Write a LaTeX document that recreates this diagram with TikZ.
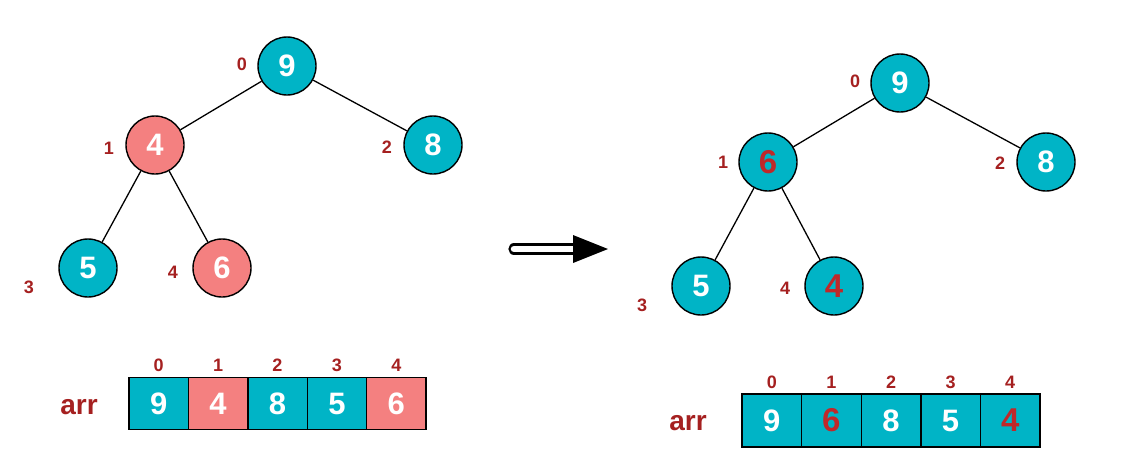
\documentclass[tikz,border=0pt]{standalone}
\usepackage{fontspec}
\setmainfont{Liberation Sans}
\usepackage{xcolor}
\definecolor{heapteal}{RGB}{0,180,198}
\definecolor{heappink}{RGB}{244,128,128}
\definecolor{idxred}{RGB}{165,32,32}
\definecolor{swapred}{RGB}{192,40,42}
\tikzset{
  heapnode/.style={circle,draw=black,line width=1.4pt,minimum size=58pt,inner sep=0pt,
    fill=heapteal,text=white,font=\fontsize{31}{31}\selectfont\bfseries},
  pinknode/.style={heapnode,fill=heappink},
  swapnode/.style={heapnode,text=swapred,font=\fontsize{33}{33}\selectfont\bfseries},
  idx/.style={text=idxred,inner sep=0pt,font=\fontsize{18}{18}\selectfont\bfseries},
  arrlabel/.style={text=idxred,inner sep=0pt,font=\fontsize{28}{28}\selectfont\bfseries},
  cell/.style={rectangle,draw=black,line width=1.4pt,minimum width=59.4pt,minimum height=52pt,
    inner sep=0pt,fill=heapteal,text=white,font=\fontsize{31}{31}\selectfont\bfseries},
  pinkcell/.style={cell,fill=heappink},
  swapcell/.style={cell,text=swapred,font=\fontsize{33}{33}\selectfont\bfseries},
  edge/.style={line width=1.3pt}
}
\begin{document}
\begin{tikzpicture}[x=1pt,y=-1pt]
  \useasboundingbox (0,0) rectangle (1129,474);
  % Left heap, before the swap
  \node[heapnode] (l0) at (287,66) {9};
  \node[pinknode] (l1) at (155,145) {4};
  \node[heapnode] (l2) at (433,145) {8};
  \node[heapnode] (l3) at (88,268) {5};
  \node[pinknode] (l4) at (222,268) {6};
  \draw[edge] (l0) -- (l1);
  \draw[edge] (l0) -- (l2);
  \draw[edge] (l1) -- (l3);
  \draw[edge] (l1) -- (l4);
  % Index labels of the left heap
  \node[idx] (li0) at (242,64) {0};
  \node[idx] (li1) at (109,148) {1};
  \node[idx] (li2) at (387,147) {2};
  \node[idx] (li3) at (29,287) {3};
  \node[idx] (li4) at (173,272) {4};
  % Left array
  \node[arrlabel] (larr) at (79,407) {arr};
  \foreach \v/\s [count=\i from 0] in {9/cell,4/pinkcell,8/cell,5/cell,6/pinkcell} {
    \node[\s] (la\i) at (158.7+59.4*\i,403.5) {\v};
    \node[idx] (lai\i) at (158.7+59.4*\i,365) {\i};
  }
  % Arrow between the two states
  \coordinate (arrS) at (514,249);
  \coordinate (arrE) at (578,249);
  \draw[line width=2.4pt,double=white,double distance=6.5pt,line cap=round] (arrS) -- (arrE);
  \fill[black] (573,235) -- (608,249) -- (573,263) -- cycle;
  % Right heap, after the swap
  \node[heapnode] (r0) at (900,83) {9};
  \node[swapnode] (r1) at (768,162) {6};
  \node[heapnode] (r2) at (1046,162) {8};
  \node[heapnode] (r3) at (701,286) {5};
  \node[swapnode] (r4) at (834,286) {4};
  \draw[edge] (r0) -- (r1);
  \draw[edge] (r0) -- (r2);
  \draw[edge] (r1) -- (r3);
  \draw[edge] (r1) -- (r4);
  % Index labels of the right heap
  \node[idx] (ri0) at (855,81) {0};
  \node[idx] (ri1) at (723,162) {1};
  \node[idx] (ri2) at (1000,163) {2};
  \node[idx] (ri3) at (642,305) {3};
  \node[idx] (ri4) at (785,288) {4};
  % Right array
  \node[arrlabel] (rarr) at (688,423) {arr};
  \foreach \v/\s [count=\i from 0] in {9/cell,6/swapcell,8/cell,5/cell,4/swapcell} {
    \node[\s,minimum width=59.6pt,minimum height=53pt] (ra\i) at (771.8+59.6*\i,420.5) {\v};
    \node[idx] (rai\i) at (771.8+59.6*\i,382) {\i};
  }
\end{tikzpicture}
\end{document}
